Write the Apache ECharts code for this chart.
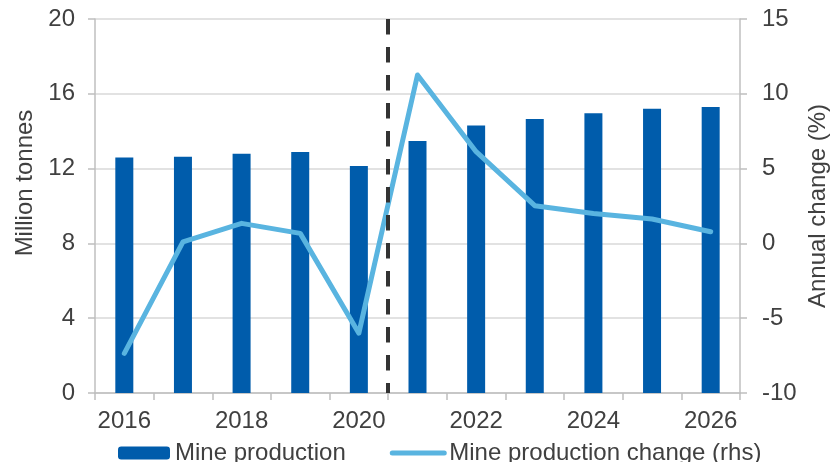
<!DOCTYPE html>
<html>
<head>
<meta charset="utf-8">
<script src="https://cdn.jsdelivr.net/npm/echarts@6/dist/echarts.min.js"></script>
<style>
html,body{margin:0;padding:0;background:#fff;}
#chart{width:832px;height:462px;}
</style>
</head>
<body>
<div id="chart"></div>
<script>
const years = ['2016','2017','2018','2019','2020','2021','2022','2023','2024','2025','2026'];
const mineProduction = [12.6, 12.64, 12.8, 12.89, 12.14, 13.48, 14.3, 14.65, 14.96, 15.2, 15.29];
const productionChange = [-7.35, 0.1, 1.34, 0.67, -6.0, 11.26, 6.13, 2.52, 2.0, 1.63, 0.78];
const leftTicks = { min: 0, max: 20, interval: 4 };
const rightTicks = { min: -10, max: 15, interval: 5 };
const forecastStartYear = '2021';

const forecastIndex = years.indexOf(forecastStartYear);
const textColor = '#404040';
const fontFamily = 'Liberation Sans, Arial, sans-serif';
const fs = 24;

const chart = echarts.init(document.getElementById('chart'), null, { renderer: 'canvas' });
chart.setOption({
  animation: false,
  textStyle: { fontFamily: fontFamily, color: textColor },
  grid: { left: 95, right: 92, top: 19, bottom: 69, containLabel: false, outerBoundsMode: 'none' },
  legend: {
    data: [
      { name: 'Mine production' },
      { name: 'Mine production change (rhs)', itemStyle: { opacity: 0 }, lineStyle: { width: 5, cap: 'round', color: '#59B4E0' } }
    ],
    left: 113, top: 436,
    itemWidth: 52, itemHeight: 13, itemGap: 44,
    textStyle: { fontSize: fs, color: textColor, fontFamily: fontFamily }
  },
  xAxis: [{
    type: 'category',
    data: years,
    axisLine: { lineStyle: { color: '#BFBFBF', width: 1.5 } },
    axisTick: { show: true, interval: 0, length: 7, lineStyle: { color: '#BFBFBF', width: 1.5 } },
    axisLabel: { interval: 1, fontSize: fs, color: textColor, margin: 16, fontFamily: fontFamily },
    splitLine: { show: false }
  }, {
    type: 'value',
    min: 0, max: years.length,
    show: false
  }],
  yAxis: [{
    type: 'value',
    min: leftTicks.min, max: leftTicks.max, interval: leftTicks.interval,
    name: 'Million tonnes',
    nameLocation: 'middle', nameRotate: 90, nameGap: 58,
    nameMoveOverlap: false,
    nameTruncate: { maxWidth: 300 },
    nameTextStyle: { fontSize: fs, color: textColor, fontFamily: fontFamily, padding: [0, 0, 0, 46] },
    axisLine: { show: true, lineStyle: { color: '#BFBFBF', width: 1.5 } },
    axisTick: { show: true, length: 7, lineStyle: { color: '#BFBFBF', width: 1.5 } },
    axisLabel: { fontSize: fs, color: textColor, margin: 20, fontFamily: fontFamily },
    splitLine: { show: true, lineStyle: { color: '#D9D9D9', width: 1.5 } }
  }, {
    type: 'value',
    position: 'right',
    min: rightTicks.min, max: rightTicks.max, interval: rightTicks.interval,
    name: 'Annual change (%)',
    nameLocation: 'middle', nameRotate: 90, nameGap: 66,
    nameMoveOverlap: false,
    nameTruncate: { maxWidth: 300 },
    nameTextStyle: { fontSize: fs, color: textColor, fontFamily: fontFamily },
    axisLine: { show: true, lineStyle: { color: '#BFBFBF', width: 1.5 } },
    axisTick: { show: true, length: 7, lineStyle: { color: '#BFBFBF', width: 1.5 } },
    axisLabel: { fontSize: fs, color: textColor, margin: 22, fontFamily: fontFamily },
    splitLine: { show: false }
  }],
  series: [{
    name: 'Mine production',
    type: 'bar',
    data: mineProduction,
    barWidth: 18,
    itemStyle: { color: '#005CAB' },
    z: 2
  }, {
    name: 'Mine production change (rhs)',
    type: 'line',
    yAxisIndex: 1,
    data: productionChange,
    symbol: 'none',
    lineStyle: { color: '#59B4E0', width: 5, cap: 'round', join: 'round' },
    itemStyle: { color: '#59B4E0' },
    z: 4
  }, {
    name: 'forecast',
    type: 'line',
    xAxisIndex: 1,
    yAxisIndex: 0,
    data: [],
    symbol: 'none',
    markLine: {
      silent: true,
      symbol: ['none', 'none'],
      label: { show: false },
      lineStyle: { color: '#333333', width: 4, type: [15.5, 12.5] },
      data: [[
        { xAxis: forecastIndex, yAxis: leftTicks.max },
        { xAxis: forecastIndex, yAxis: leftTicks.min }
      ]]
    },
    z: 3
  }]
});
</script>
</body>
</html>
